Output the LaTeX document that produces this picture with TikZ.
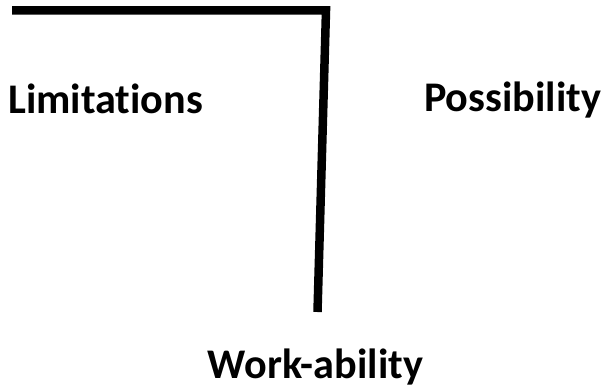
\documentclass[tikz,border=0pt]{standalone}
\usepackage{fontspec}
\setmainfont[Ligatures={NoCommon}]{Carlito}
\usepackage{tikz}
\usetikzlibrary{calc}

\begin{document}
\begin{tikzpicture}[x=1pt,y=1pt,
    label text/.style={inner sep=0pt,font=\bfseries\fontsize{42.2}{50}\selectfont}]
        \useasboundingbox (0,0) rectangle (605,389);
        \draw (12,378.5) coordinate (a);
        \draw (326,378.5) coordinate (b);
        \draw (317.5,77) coordinate (c);

        \draw[line width=8.5pt,line join=miter] (a)--(b)--(c);

        \node[label text,anchor=base west] (lim) at (8,276) {Limitations};
        \node[label text,anchor=base west] (pos) at (424,277) {Possibility};
        \node[label text,anchor=base] (work) at (315.5,11) {Work-ability};
    \end{tikzpicture}
\end{document}
